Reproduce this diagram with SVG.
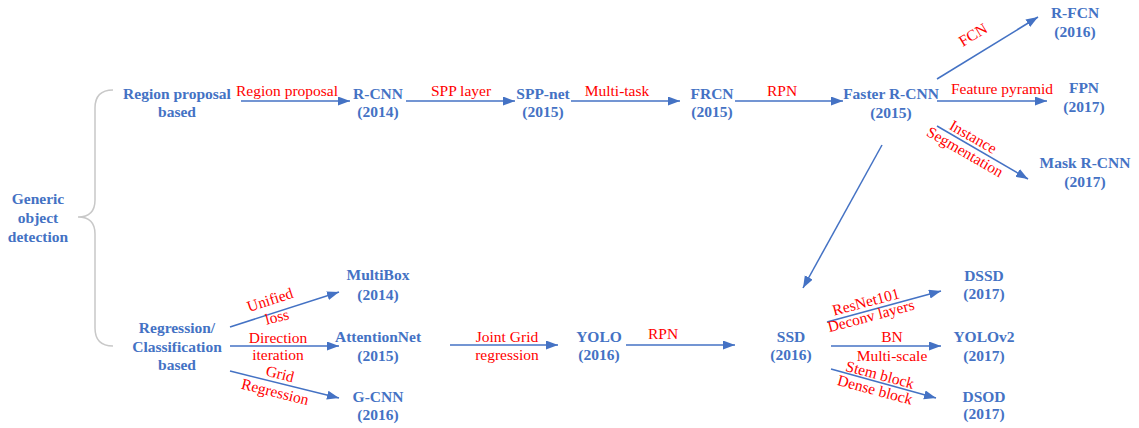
<svg xmlns="http://www.w3.org/2000/svg" width="1139" height="428" viewBox="0 0 1139 428">
<style>
.n{font-family:"Liberation Serif","Times New Roman",serif;font-weight:bold;font-size:15.5px;fill:#4472C4;text-anchor:middle}
.l{font-family:"Liberation Serif","Times New Roman",serif;font-size:15.5px;fill:#FF0000;text-anchor:middle}
.c{stroke:#4472C4;stroke-width:1.5;fill:none}
</style>
<defs>
<marker id="ah" markerUnits="userSpaceOnUse" markerWidth="13" markerHeight="10" refX="12" refY="4.5" orient="auto">
<path d="M0,0 L12,4.5 L0,9 z" fill="#4472C4"/>
</marker>
</defs>
<rect width="1139" height="428" fill="#ffffff"/>
<path id="brace" d="M113,90 Q95,90 95,108 L95,200 Q95,217 78,217 Q95,217 95,234 L95,328 Q95,346 113,346" fill="none" stroke="#c8c8c8" stroke-width="1.5"/>
<g id="connectors">
<line class="c" x1="241" y1="101" x2="350" y2="101" marker-end="url(#ah)"/>
<line class="c" x1="406" y1="101" x2="515" y2="101" marker-end="url(#ah)"/>
<line class="c" x1="571" y1="101" x2="680" y2="101" marker-end="url(#ah)"/>
<line class="c" x1="735" y1="101" x2="843" y2="101" marker-end="url(#ah)"/>
<line class="c" x1="937" y1="79" x2="1038" y2="17" marker-end="url(#ah)"/>
<line class="c" x1="937" y1="101" x2="1047" y2="101" marker-end="url(#ah)"/>
<line class="c" x1="937" y1="126" x2="1028" y2="179" marker-end="url(#ah)"/>
<line class="c" x1="882" y1="145" x2="803" y2="288" marker-end="url(#ah)"/>
<line class="c" x1="230" y1="327" x2="339" y2="292" marker-end="url(#ah)"/>
<line class="c" x1="230" y1="346" x2="339" y2="346" marker-end="url(#ah)"/>
<line class="c" x1="230" y1="371" x2="339" y2="398" marker-end="url(#ah)"/>
<line class="c" x1="450" y1="345" x2="558" y2="345" marker-end="url(#ah)"/>
<line class="c" x1="626" y1="345" x2="735" y2="345" marker-end="url(#ah)"/>
<line class="c" x1="827" y1="322" x2="941" y2="291" marker-end="url(#ah)"/>
<line class="c" x1="831" y1="346" x2="941" y2="346" marker-end="url(#ah)"/>
<line class="c" x1="831" y1="369" x2="936" y2="398" marker-end="url(#ah)"/>
<text class="l" x="287" y="96">Region proposal</text>
<text class="l" x="461" y="96">SPP layer</text>
<text class="l" x="617" y="96">Multi-task</text>
<text class="l" x="782" y="96">RPN</text>
<text class="l" transform="translate(973,35) rotate(-31)" y="5">FCN</text>
<text class="l" x="1002" y="94">Feature pyramid</text>
<text class="l" transform="translate(973,137) rotate(30)" y="5">Instance</text>
<text class="l" transform="translate(965,152) rotate(30)" y="5">Segmentation</text>
<text class="l" transform="translate(270,300) rotate(-18)" y="5">Unified</text>
<text class="l" transform="translate(277,317) rotate(-14)" y="5">loss</text>
<text class="l" x="278" y="343">Direction</text>
<text class="l" x="278" y="360">iteration</text>
<text class="l" transform="translate(280,374) rotate(14)" y="5">Grid</text>
<text class="l" transform="translate(275,392) rotate(14)" y="5">Regression</text>
<text class="l" x="507" y="342">Joint Grid</text>
<text class="l" x="507" y="360">regression</text>
<text class="l" x="663" y="339">RPN</text>
<text class="l" transform="translate(866,302) rotate(-15)" y="5">ResNet101</text>
<text class="l" transform="translate(871,316) rotate(-15)" y="5">Deconv layers</text>
<text class="l" x="892" y="342">BN</text>
<text class="l" x="892" y="361">Multi-scale</text>
<text class="l" transform="translate(880,375) rotate(15)" y="5">Stem block</text>
<text class="l" transform="translate(875,390) rotate(15)" y="5">Dense block</text>
</g>
<g id="generic"><text class="n" x="38" y="204">Generic</text><text class="n" x="38" y="223">object</text><text class="n" x="38" y="242">detection</text></g>
<g id="rp_based"><text class="n" x="177" y="99">Region proposal</text><text class="n" x="177" y="117">based</text></g>
<g id="rcnn"><text class="n" x="378" y="99">R-CNN</text><text class="n" x="378" y="117">(2014)</text></g>
<g id="sppnet"><text class="n" x="543" y="99">SPP-net</text><text class="n" x="543" y="117">(2015)</text></g>
<g id="frcn"><text class="n" x="712" y="99">FRCN</text><text class="n" x="712" y="117">(2015)</text></g>
<g id="faster"><text class="n" x="891" y="99">Faster R-CNN</text><text class="n" x="891" y="118">(2015)</text></g>
<g id="rfcn"><text class="n" x="1075" y="18">R-FCN</text><text class="n" x="1075" y="37">(2016)</text></g>
<g id="fpn"><text class="n" x="1084" y="93">FPN</text><text class="n" x="1084" y="112">(2017)</text></g>
<g id="mask"><text class="n" x="1085" y="168">Mask R-CNN</text><text class="n" x="1085" y="187">(2017)</text></g>
<g id="rc_based"><text class="n" x="177" y="333">Regression/</text><text class="n" x="177" y="352">Classification</text><text class="n" x="177" y="370">based</text></g>
<g id="multibox"><text class="n" x="378" y="280">MultiBox</text><text class="n" x="378" y="300">(2014)</text></g>
<g id="attnet"><text class="n" x="378" y="342">AttentionNet</text><text class="n" x="378" y="361">(2015)</text></g>
<g id="gcnn"><text class="n" x="378" y="402">G-CNN</text><text class="n" x="378" y="420">(2016)</text></g>
<g id="yolo"><text class="n" x="599" y="342">YOLO</text><text class="n" x="599" y="360">(2016)</text></g>
<g id="ssd"><text class="n" x="791" y="342">SSD</text><text class="n" x="791" y="360">(2016)</text></g>
<g id="dssd"><text class="n" x="984" y="281">DSSD</text><text class="n" x="984" y="299">(2017)</text></g>
<g id="yolov2"><text class="n" x="984" y="342">YOLOv2</text><text class="n" x="984" y="361">(2017)</text></g>
<g id="dsod"><text class="n" x="984" y="402">DSOD</text><text class="n" x="984" y="419">(2017)</text></g>
</svg>
